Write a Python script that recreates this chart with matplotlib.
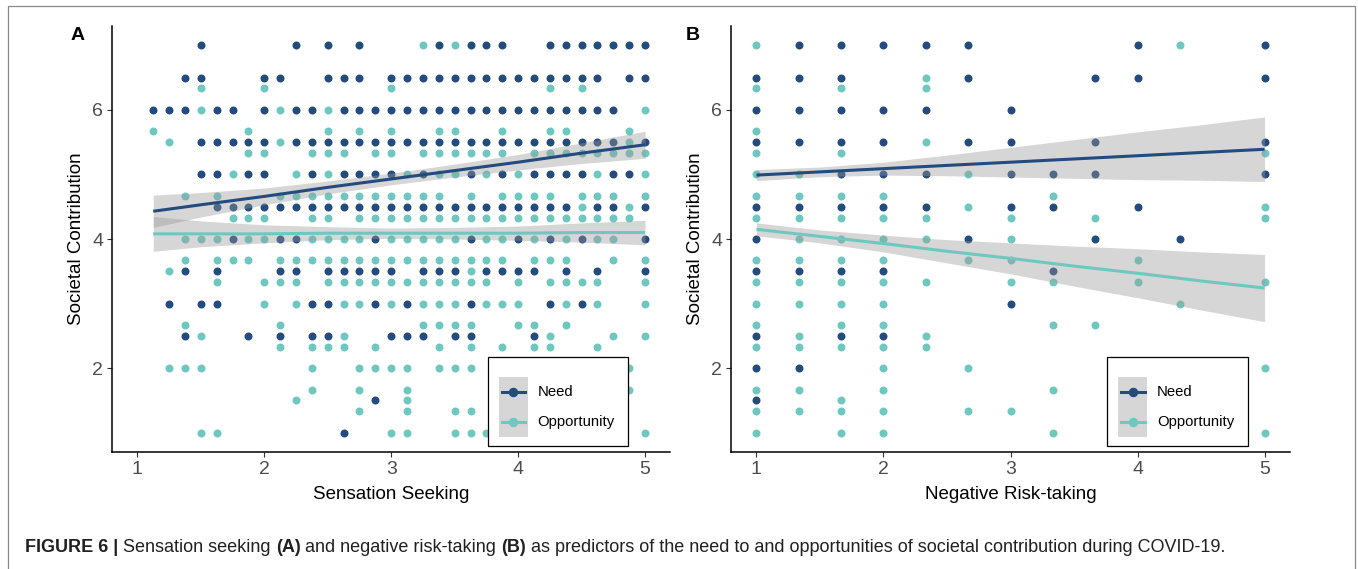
import numpy as np
import matplotlib
matplotlib.use("Agg")
import matplotlib.pyplot as plt
from matplotlib import font_manager
from matplotlib.patches import Rectangle
from matplotlib.lines import Line2D

plt.rcParams['font.family'] = ['Liberation Sans', 'DejaVu Sans']

NEED_COL = "#234b7d"
OPP_COL = "#6ec8c0"

# possible scale scores (x axis) for each panel
a_x_levels = [1.0, 1.125, 1.25, 1.375, 1.5, 1.625, 1.75, 1.875, 2.0,
              2.125, 2.25, 2.375, 2.5, 2.625, 2.75, 2.875, 3.0,
              3.125, 3.25, 3.375, 3.5, 3.625, 3.75, 3.875, 4.0,
              4.125, 4.25, 4.375, 4.5, 4.625, 4.75, 4.875, 5.0]
b_x_levels = [1.0, 1.333, 1.667, 2.0, 2.333, 2.667, 3.0, 3.333, 3.667,
              4.0, 4.333, 4.667, 5.0]

# visible points: societal contribution score -> x level indices
a_need = {
    7.0: [4, 10, 12, 14, 19, 21, 22, 23, 26, 27, 28, 29, 30, 31, 32],
    6.5: [3, 4, 8, 9, 12, 13, 14, 16, 17, 18, 19, 20, 21, 22, 23, 24, 25,
          26, 27, 28, 29, 31, 32],
    6.0: [1, 2, 3, 5, 6, 8, 10, 11, 13, 14, 15, 16, 17, 18, 19, 20, 21, 22,
          23, 24, 25, 26, 27, 28, 29, 30],
    5.5: [4, 5, 6, 7, 8, 10, 11, 12, 13, 14, 15, 16, 17, 18, 19, 20, 21, 22,
          23, 24, 25, 26, 27, 28, 29, 30, 32],
    5.0: [4, 5, 7, 8, 11, 13, 14, 15, 16, 18, 21, 23, 25, 26, 27, 28, 30, 31],
    4.5: [5, 6, 7, 8, 9, 10, 11, 12, 13, 14, 15, 16, 17, 18, 19, 20, 21, 22,
          23, 24, 25, 26, 27, 29, 30, 32],
    4.0: [6, 9, 10, 15, 21, 24, 26, 28, 32],
    3.5: [3, 5, 9, 10, 12, 13, 14, 15, 16, 18, 19, 20, 22, 23, 24, 25, 27,
          29, 32],
    3.0: [2, 4, 5, 11, 12, 15, 17, 21, 26, 28],
    2.5: [3, 7, 9, 11, 12, 16, 17, 18, 20, 21, 25],
    1.5: [15],
    1.0: [13],
}
a_opp = {
    7.0: [18, 20],
    6.333: [4, 8, 16, 26, 28],
    6.0: [4, 9, 12, 32],
    5.667: [1, 7, 12, 14, 16, 19, 20, 23, 26, 27, 31],
    5.5: [2, 9, 31],
    5.333: [7, 8, 11, 12, 13, 15, 16, 18, 19, 20, 21, 22, 23, 25, 26, 27,
            28, 29, 30, 31, 32],
    5.0: [6, 10, 12, 17, 19, 20, 22, 24, 29, 32],
    4.667: [3, 5, 9, 10, 11, 12, 13, 14, 15, 16, 17, 18, 19, 21, 23, 24, 25,
            26, 28, 29, 30, 32],
    4.5: [28, 31],
    4.333: [6, 7, 8, 11, 12, 14, 15, 16, 17, 18, 19, 20, 21, 22, 23, 24, 25,
            26, 27, 28, 29, 30, 31],
    4.0: [3, 4, 5, 7, 8, 11, 12, 13, 14, 16, 17, 18, 19, 20, 22, 23, 25, 27,
          29, 30],
    3.667: [3, 5, 6, 7, 9, 10, 11, 12, 13, 14, 15, 16, 17, 18, 19, 20, 21,
            22, 23, 25, 26, 27, 30, 32],
    3.5: [2, 21],
    3.333: [5, 8, 9, 10, 12, 13, 14, 15, 16, 17, 18, 19, 20, 21, 22, 24, 26,
            27, 28, 29, 32],
    3.0: [8, 10, 13, 14, 16, 18, 19, 20, 22, 23, 24, 27, 29, 32],
    2.667: [3, 9, 18, 19, 20, 21, 24, 25, 27],
    2.5: [4, 13, 26, 30, 32],
    2.333: [9, 11, 12, 13, 15, 19, 21, 23, 25, 26, 29],
    2.0: [2, 3, 4, 11, 14, 15, 16, 17, 19, 20, 21, 31],
    1.667: [11, 14, 17, 31],
    1.5: [10, 17],
    1.333: [14, 17, 20, 21],
    1.0: [4, 5, 16, 17, 20, 21, 22, 32],
}
b_need = {
    7.0: [1, 2, 3, 4, 5, 9, 12],
    6.5: [0, 1, 2, 5, 8, 9, 12],
    6.0: [0, 1, 2, 3, 4, 6],
    5.5: [0, 1, 2, 3, 5, 6, 8, 12],
    5.0: [2, 3, 4, 6, 7, 8, 12],
    4.5: [0, 1, 2, 3, 4, 6, 7, 9],
    4.0: [0, 5, 8, 10],
    3.5: [0, 1, 2, 3, 7],
    3.0: [6],
    2.5: [0, 2, 3],
    2.0: [0, 1],
    1.5: [0],
}
b_opp = {
    7.0: [0, 10],
    6.5: [4],
    6.333: [0, 2, 4],
    5.667: [0],
    5.5: [4],
    5.333: [0, 2, 12],
    5.0: [0, 1, 5],
    4.667: [0, 1, 2, 3, 7],
    4.5: [5, 12],
    4.333: [0, 1, 2, 3, 4, 6, 8, 12],
    4.0: [1, 2, 3, 4, 6],
    3.667: [0, 1, 2, 3, 5, 6, 9],
    3.333: [0, 1, 2, 3, 4, 6, 7, 9, 12],
    3.0: [0, 1, 2, 3, 10],
    2.667: [0, 2, 3, 7, 8],
    2.5: [1, 4],
    2.333: [0, 1, 2, 3, 4],
    2.0: [3, 5, 12],
    1.667: [0, 1, 3, 7],
    1.5: [2],
    1.333: [0, 1, 2, 3, 5, 6],
    1.0: [0, 2, 3, 7, 12],
}

# fitted lines and confidence band half-widths
a_fit_x = [1.125, 1.5, 2.0, 2.5, 3.0, 3.5, 4.0, 4.5, 5.0]
a_need_fit = [4.43, 4.53, 4.66, 4.80, 4.93, 5.06, 5.19, 5.33, 5.46]
a_need_ci = [0.25, 0.19, 0.13, 0.10, 0.09, 0.10, 0.12, 0.16, 0.21]
a_opp_fit = [4.08, 4.08, 4.08, 4.09, 4.09, 4.09, 4.09, 4.10, 4.10]
a_opp_ci = [0.27, 0.20, 0.14, 0.10, 0.08, 0.09, 0.11, 0.15, 0.19]

b_fit_x = [1.0, 1.5, 2.0, 2.5, 3.0, 3.5, 4.0, 4.5, 5.0]
b_need_fit = [4.99, 5.04, 5.09, 5.14, 5.19, 5.24, 5.29, 5.34, 5.39]
b_need_ci = [0.085, 0.075, 0.10, 0.16, 0.23, 0.30, 0.37, 0.43, 0.50]
b_opp_fit = [4.15, 4.04, 3.93, 3.81, 3.70, 3.58, 3.47, 3.35, 3.24]
b_opp_ci = [0.10, 0.10, 0.13, 0.18, 0.24, 0.31, 0.38, 0.45, 0.52]

legend_labels = ["Need", "Opportunity"]
x_titles = ["Sensation Seeking", "Negative Risk-taking"]
y_title = "Societal Contribution"


def points(rows, levels):
    xs, ys = [], []
    for y, idx in rows.items():
        for i in idx:
            xs.append(levels[i])
            ys.append(y)
    return xs, ys


def draw_legend(ax):
    tr = ax.transAxes
    ax.add_patch(Rectangle((0.673, 0.014), 0.251, 0.209, transform=tr,
                           facecolor="white", edgecolor="black", lw=0.9,
                           zorder=10, clip_on=False))
    ax.add_patch(Rectangle((0.693, 0.036), 0.052, 0.141, transform=tr,
                           facecolor="#d6d6d6", edgecolor="none",
                           zorder=11, clip_on=False))
    for yy, col, lab in [(0.140, NEED_COL, legend_labels[0]),
                         (0.071, OPP_COL, legend_labels[1])]:
        ax.plot([0.698, 0.740], [yy, yy], transform=tr, color=col,
                lw=2.2, zorder=12, clip_on=False)
        ax.plot([0.719], [yy], transform=tr, marker="o", color=col,
                markersize=5.8, zorder=13, clip_on=False)
        ax.text(0.762, yy, lab, transform=tr, fontsize=10.7, va="center",
                ha="left", zorder=13)


def panel(ax, levels, need, opp, fx, nfit, nci, ofit, oci, xtitle):
    nx, ny = points(need, levels)
    ox, oy = points(opp, levels)
    ax.scatter(nx, ny, s=33, color=NEED_COL, linewidths=0, zorder=2)
    ax.scatter(ox, oy, s=33, color=OPP_COL, linewidths=0, zorder=2)
    for fit, ci, col in [(nfit, nci, NEED_COL), (ofit, oci, OPP_COL)]:
        fit = np.array(fit)
        ci = np.array(ci)
        ax.fill_between(fx, fit - ci, fit + ci, color="#999999", alpha=0.4,
                        linewidth=0, zorder=3)
        ax.plot(fx, fit, color=col, lw=2.2, zorder=4,
                solid_capstyle="butt")
    ax.set_xlim(0.8, 5.2)
    ax.set_ylim(0.7, 7.3)
    ax.set_xticks([1, 2, 3, 4, 5])
    ax.set_yticks([2, 4, 6])
    for s in ["top", "right"]:
        ax.spines[s].set_visible(False)
    for s in ["left", "bottom"]:
        ax.spines[s].set_linewidth(1.1)
    ax.tick_params(length=3.3, width=0.8, color="#333333", labelsize=14,
                   labelcolor="#4d4d4d", pad=3)
    ax.set_xlabel(xtitle, fontsize=13.5, labelpad=6)
    ax.set_ylabel(y_title, fontsize=13.5, labelpad=5)
    draw_legend(ax)


fig = plt.figure(figsize=(13.58, 5.69), dpi=100)
W, H = 1358.0, 569.0
bottom = (H - 452) / H
height = 426 / H
ax1 = fig.add_axes([112 / W, bottom, 558.4 / W, height])
ax2 = fig.add_axes([731 / W, bottom, 559 / W, height])

panel(ax1, a_x_levels, a_need, a_opp, a_fit_x, a_need_fit, a_need_ci,
      a_opp_fit, a_opp_ci, x_titles[0])
panel(ax2, b_x_levels, b_need, b_opp, b_fit_x, b_need_fit, b_need_ci,
      b_opp_fit, b_opp_ci, x_titles[1])

fig.text(78 / W, 1 - 36 / H, "A", fontsize=14, fontweight="bold",
         ha="center", va="center")
fig.text(693 / W, 1 - 36 / H, "B", fontsize=14, fontweight="bold",
         ha="center", va="center")

# frame around the figure (left, top, right)
fig.add_artist(Line2D([7.5 / W, 7.5 / W, 1355 / W, 1355 / W],
                      [0, 1 - 6 / H, 1 - 6 / H, 0],
                      transform=fig.transFigure, color="#8a8a8a", lw=0.9))

# caption with bold parts
names = [f.name for f in font_manager.fontManager.ttflist]
cap_family = "Liberation Sans Narrow" if "Liberation Sans Narrow" in names \
    else "Liberation Sans"
cap_size = 14 if cap_family == "Liberation Sans Narrow" else 13
caption = [("FIGURE 6 | ", "bold"), ("Sensation seeking ", "normal"),
           ("(A)", "bold"), (" and negative risk-taking ", "normal"),
           ("(B)", "bold"),
           (" as predictors of the need to and opportunities of societal "
            "contribution during COVID-19.", "normal")]
renderer = fig.canvas.get_renderer()
x = 25
for txt, wt in caption:
    t = fig.text(x / W, 1 - 547 / H, txt, fontsize=cap_size, fontweight=wt,
                 family=[cap_family, "DejaVu Sans"], color="#231f20",
                 va="center", ha="left")
    bb = t.get_window_extent(renderer)
    x += bb.width

fig.savefig("out.png", dpi=100)
